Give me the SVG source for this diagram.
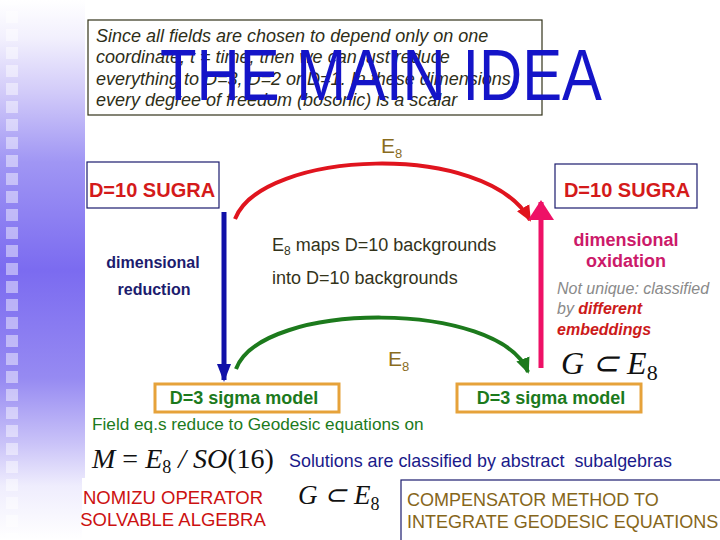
<svg xmlns="http://www.w3.org/2000/svg" width="720" height="540" viewBox="0 0 720 540">
<defs>
<linearGradient id="band" x1="0" y1="0" x2="0" y2="540" gradientUnits="userSpaceOnUse">
<stop offset="0" stop-color="#ffffff"/>
<stop offset="0.07" stop-color="#f2f0fd"/>
<stop offset="0.17" stop-color="#d2cbf9"/>
<stop offset="0.3" stop-color="#a096f4"/>
<stop offset="0.5" stop-color="#7b6bf0"/>
<stop offset="0.7" stop-color="#968af2"/>
<stop offset="0.82" stop-color="#c9c2f8"/>
<stop offset="0.9" stop-color="#efedfd"/>
<stop offset="1" stop-color="#ffffff"/>
</linearGradient>
<pattern id="sq" x="6" y="11" width="85" height="18" patternUnits="userSpaceOnUse">
<rect x="0" y="0" width="12" height="12" fill="#ffffff" fill-opacity="0.45"/>
</pattern>
<marker id="ahRed" markerUnits="userSpaceOnUse" markerWidth="16" markerHeight="16" refX="14" refY="7" orient="auto" viewBox="0 0 16 14">
<path d="M0,0 L16,7 L0,14 Z" fill="#e0141e"/>
</marker>
<marker id="ahGreen" markerUnits="userSpaceOnUse" markerWidth="16" markerHeight="16" refX="14" refY="7" orient="auto" viewBox="0 0 16 14">
<path d="M0,0 L16,7 L0,14 Z" fill="#1c7a1c"/>
</marker>
<marker id="ahBlue" markerUnits="userSpaceOnUse" markerWidth="18" markerHeight="14" refX="16" refY="7" orient="auto" viewBox="0 0 18 14">
<path d="M0,0 L18,7 L0,14 Z" fill="#1010a8"/>
</marker>
<marker id="ahPink" markerUnits="userSpaceOnUse" markerWidth="20" markerHeight="26" refX="18" refY="13" orient="auto" viewBox="0 0 20 26">
<path d="M0,0 L20,13 L0,26 Z" fill="#ee1166"/>
</marker>
</defs>
<style>
text { font-family: "Liberation Sans", Arial, sans-serif; }
.intro { font-size: 18px; font-style: italic; fill: #2e2e18; }
.sugra { font-size: 20px; font-weight: bold; fill: #d41a1a; }
.box { fill: #ffffff; stroke: #1c1c6e; stroke-width: 1.2; }
.obox { fill: #ffffff; stroke: #e6a23a; stroke-width: 3; }
.sigma { font-size: 18px; font-weight: bold; fill: #1c7a1c; }
.e8 { font-size: 21px; fill: #8a6c1e; }
.math { font-family: "Liberation Serif", "Times New Roman", serif; font-style: italic; fill: #111111; }
.up { font-style: normal; }
</style>

<g id="background">
<rect x="0" y="0" width="720" height="540" fill="#ffffff"/>
<rect x="0" y="0" width="85" height="540" fill="url(#band)"/>
<rect x="0" y="0" width="85" height="540" fill="url(#sq)"/>
<rect x="82" y="478" width="10" height="62" fill="#ffffff"/>
</g>

<g id="intro-box">
<rect x="88" y="20" width="454" height="95" fill="#ffffff" stroke="#33331a" stroke-width="1.2"/>
<text class="intro" x="96" y="42">Since all fields are chosen to depend only on one</text>
<text class="intro" x="96" y="63">coordinate, t = time, then we can just reduce</text>
<text class="intro" x="96" y="85">everything to D=3, D=2 or D=1. In these dimensions</text>
<text class="intro" x="96" y="106">every degree of freedom (bosonic) is a scalar</text>
</g>

<g id="title">
<text x="160" y="100" font-size="73" fill="#1414c8" textLength="442" lengthAdjust="spacingAndGlyphs">THE MAIN IDEA</text>
</g>

<g id="connectors" fill="none">
<path d="M235,219 C262,150 485,140 530,220" stroke="#e0141e" stroke-width="4" marker-end="url(#ahRed)"/>
<path d="M236,369 C262,300 500,300 528,372" stroke="#1c7a1c" stroke-width="4" marker-end="url(#ahGreen)"/>
<path d="M224,212 L224,380" stroke="#1010a8" stroke-width="5" marker-end="url(#ahBlue)"/>
<path d="M541,368 L541,202" stroke="#ee1166" stroke-width="5" marker-end="url(#ahPink)"/>
</g>

<g id="e8-top">
<text class="e8" x="381" y="153">E<tspan font-size="13" dy="5">8</tspan></text>
</g>

<g id="sugra-left">
<rect class="box" x="87" y="162" width="132" height="46"/>
<text class="sugra" x="152" y="197" text-anchor="middle">D=10 SUGRA</text>
</g>

<g id="sugra-right">
<rect class="box" x="555" y="164" width="142" height="44"/>
<text class="sugra" x="627" y="197" text-anchor="middle">D=10 SUGRA</text>
</g>

<g id="reduction-label">
<text x="153" y="268" font-size="16" font-weight="bold" fill="#1c1c6e" text-anchor="middle">dimensional</text>
<text x="154" y="295" font-size="16" font-weight="bold" fill="#1c1c6e" text-anchor="middle">reduction</text>
</g>

<g id="maps-label">
<text x="272" y="251" font-size="18" fill="#33331a">E<tspan font-size="12" dy="4">8</tspan><tspan dy="-4"> maps D=10 backgrounds</tspan></text>
<text x="272" y="284" font-size="18" fill="#33331a">into D=10 backgrounds</text>
</g>

<g id="oxidation-label">
<text x="626" y="246" font-size="18" font-weight="bold" fill="#cc1a6a" text-anchor="middle">dimensional</text>
<text x="626" y="267" font-size="18" font-weight="bold" fill="#cc1a6a" text-anchor="middle">oxidation</text>
<text x="557" y="294" font-size="16" font-style="italic" fill="#8a8a8a">Not unique: classified</text>
<text x="557" y="314" font-size="16" font-style="italic" fill="#8a8a8a">by <tspan font-weight="bold" fill="#cc1a1a">different</tspan></text>
<text x="557" y="335" font-size="16" font-style="italic" font-weight="bold" fill="#cc1a1a">embeddings</text>
</g>

<g id="e8-bottom">
<text class="e8" x="388" y="366">E<tspan font-size="13" dy="5">8</tspan></text>
</g>

<g id="embed-formula">
<text class="math" x="561" y="374" font-size="32">G ⊂ E<tspan class="up" font-size="22" dy="6">8</tspan></text>
</g>

<g id="sigma-left">
<rect class="obox" x="155" y="384" width="184" height="28"/>
<text class="sigma" x="244" y="404" text-anchor="middle">D=3 sigma model</text>
</g>

<g id="sigma-right">
<rect class="obox" x="457" y="384" width="184" height="28"/>
<text class="sigma" x="551" y="404" text-anchor="middle">D=3 sigma model</text>
</g>

<g id="geodesic-text">
<text x="92" y="430" font-size="17.2" fill="#1c7a1c">Field eq.s reduce to Geodesic equations on</text>
</g>

<g id="coset-formula">
<text class="math" x="92" y="468" font-size="28">M <tspan class="up">=</tspan> E<tspan class="up" font-size="18" dy="5">8</tspan><tspan dy="-5"> / SO</tspan><tspan class="up">(16)</tspan></text>
</g>

<g id="solutions-text">
<text x="289" y="467" font-size="17.9" fill="#1a1a8a">Solutions are classified by abstract&#160; subalgebras</text>
</g>

<g id="nomizu">
<text x="173" y="504" font-size="18.5" fill="#cc1111" text-anchor="middle">NOMIZU OPERATOR</text>
<text x="173" y="526" font-size="18.5" fill="#cc1111" text-anchor="middle">SOLVABLE ALGEBRA</text>
</g>

<g id="subalgebra-formula">
<text class="math" x="298" y="504" font-size="27">G ⊂ E<tspan class="up" font-size="18" dy="6">8</tspan></text>
</g>

<g id="compensator">
<rect x="401" y="480" width="330" height="70" fill="#ffffff" stroke="#1c1c6e" stroke-width="1.2"/>
<text x="407" y="506" font-size="18" fill="#86661a">COMPENSATOR METHOD TO</text>
<text x="407" y="528" font-size="18" fill="#86661a">INTEGRATE GEODESIC EQUATIONS</text>
</g>
</svg>
